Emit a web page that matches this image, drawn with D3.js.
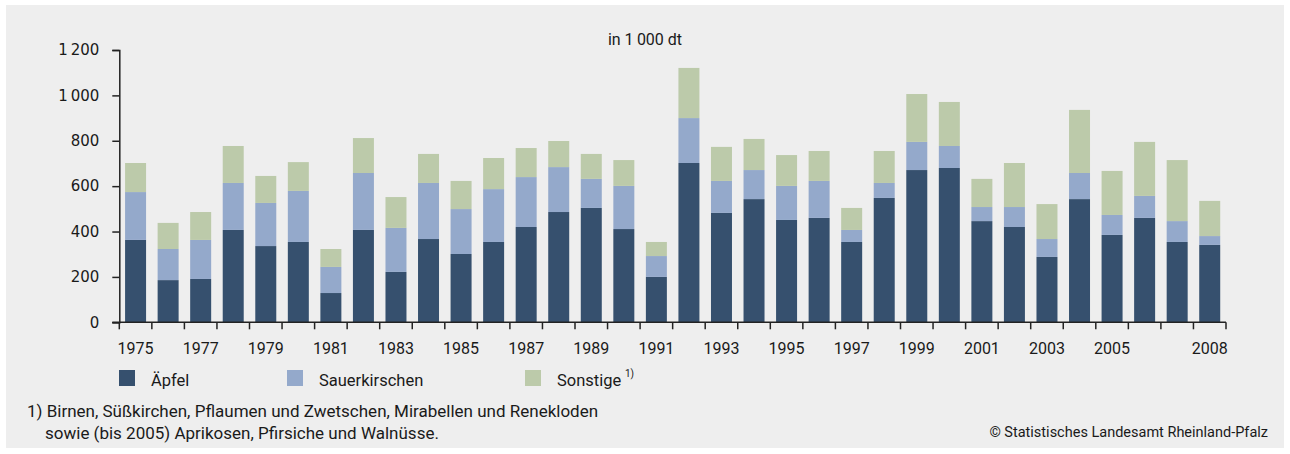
<!DOCTYPE html>
<html>
<head>
<meta charset="utf-8">
<script src="https://cdn.jsdelivr.net/npm/d3@7"></script>
<style>
  html, body { margin: 0; padding: 0; background: #ffffff; }
  svg { display: block; }
  text { font-family: Roboto, "Noto Sans", sans-serif; fill: #1a1a1a; }
</style>
</head>
<body>
<svg id="chart" width="1290" height="454"></svg>
<script>
// Erntemengen Baumobst Rheinland-Pfalz, in 1 000 dt
const years = d3.range(1975, 2009);
const aepfel = [363, 186, 191, 407, 336, 354, 129, 407, 222, 367, 301, 354, 420, 486, 504, 411, 200,
                702, 482, 543, 451, 460, 354, 548, 671, 680, 446, 420, 288, 543, 385, 460, 354, 341];
const sauerkirschen = [211, 137, 172, 207, 190, 225, 115, 251, 194, 247, 198, 233, 220, 198, 128, 190, 92,
                198, 141, 128, 150, 163, 53, 66, 124, 97, 62, 88, 79, 115, 88, 97, 92, 39];
const sonstige = [128, 115, 123, 163, 119, 127, 79, 154, 136, 128, 124, 137, 128, 115, 110, 114, 62,
                221, 150, 137, 136, 132, 97, 141, 211, 194, 124, 194, 154, 278, 194, 238, 269, 155];
const yTicks = [0, 200, 400, 600, 800, 1000, 1200];
const xTickLabels = [1975, 1977, 1979, 1981, 1983, 1985, 1987, 1989, 1991, 1993, 1995, 1997, 1999, 2001, 2003, 2005, 2008];

const seriesNames = ["Äpfel", "Sauerkirschen", "Sonstige"];
const colors = ["#36506e", "#94a9cb", "#bccaaa"];

const rows = years.map((yr, i) => ({
  year: yr,
  "Äpfel": aepfel[i],
  "Sauerkirschen": sauerkirschen[i],
  "Sonstige": sonstige[i]
}));

const svg = d3.select("#chart");

// panel background
svg.append("rect")
  .attr("x", 6).attr("y", 5)
  .attr("width", 1278).attr("height", 443)
  .attr("fill", "#eeeeee");

const plotLeft = 119.3, plotRight = 1226, plotTop = 50, plotBottom = 322.3;

const x = d3.scaleBand()
  .domain(years)
  .range([plotLeft, plotRight])
  .paddingInner(0.355)
  .paddingOuter(0.1775);

const xEdge = d3.scaleBand().domain(years).range([plotLeft, plotRight]).padding(0);

const y = d3.scaleLinear().domain([0, 1200]).range([plotBottom, plotTop]);

const layers = d3.stack().keys(seriesNames)(rows);

svg.append("g")
  .selectAll("g")
  .data(layers)
  .join("g")
  .attr("fill", (d, i) => colors[i])
  .selectAll("rect")
  .data(d => d)
  .join("rect")
  .attr("x", d => x(d.data.year))
  .attr("width", x.bandwidth())
  .attr("y", d => y(d[1]))
  .attr("height", d => y(d[0]) - y(d[1]));

// y axis
const yAxis = svg.append("g")
  .attr("transform", `translate(${plotLeft},0)`)
  .call(d3.axisLeft(y)
    .tickValues(yTicks)
    .tickSize(7)
    .tickPadding(13)
    .tickFormat(d => d3.format(",")(d).replace(",", "\u2009")));
yAxis.select(".domain").attr("stroke", "#222").attr("stroke-width", 1.5);
yAxis.selectAll(".tick line").attr("stroke", "#222").attr("stroke-width", 1.5);
yAxis.selectAll(".tick text")
  .style("font-family", "'DejaVu Sans', sans-serif")
  .style("font-size", "15px")
  .attr("fill", "#1a1a1a");

// x axis: tick marks on band boundaries
const edges = years.map(yr => xEdge(yr)).concat([plotRight]);
svg.append("line")
  .attr("x1", plotLeft - 7).attr("x2", plotRight)
  .attr("y1", plotBottom).attr("y2", plotBottom)
  .attr("stroke", "#222").attr("stroke-width", 1.5);
svg.append("g")
  .selectAll("line")
  .data(edges)
  .join("line")
  .attr("x1", d => d).attr("x2", d => d)
  .attr("y1", plotBottom).attr("y2", plotBottom + 7)
  .attr("stroke", "#222").attr("stroke-width", 1.5);

svg.append("g")
  .selectAll("text")
  .data(xTickLabels)
  .join("text")
  .attr("x", d => x(d) + x.bandwidth() / 2)
  .attr("y", 354)
  .attr("text-anchor", "middle")
  .style("font-size", "16px")
  .text(d => d);

// unit
svg.append("text")
  .attr("x", 645).attr("y", 45)
  .attr("text-anchor", "middle")
  .style("font-size", "16px")
  .text("in 1\u2009000 dt");

// legend
const legendX = [119, 287, 525];
const lg = svg.append("g")
  .selectAll("g")
  .data(seriesNames)
  .join("g")
  .attr("transform", (d, i) => `translate(${legendX[i]},370)`);
lg.append("rect")
  .attr("width", 16).attr("height", 16)
  .attr("fill", (d, i) => colors[i]);
lg.append("text")
  .attr("x", 32).attr("y", 16)
  .style("font-size", "16.5px")
  .text(d => d);
lg.filter(d => d === "Sonstige")
  .append("text")
  .attr("x", 100).attr("y", 7)
  .style("font-size", "10px")
  .text("1)");

// footnote and source
svg.append("text")
  .attr("x", 27).attr("y", 417)
  .style("font-size", "17px")
  .text("1) Birnen, Süßkirchen, Pflaumen und Zwetschen, Mirabellen und Renekloden");
svg.append("text")
  .attr("x", 45).attr("y", 439)
  .style("font-size", "17px")
  .text("sowie (bis 2005) Aprikosen, Pfirsiche und Walnüsse.");
svg.append("text")
  .attr("x", 1268).attr("y", 437)
  .attr("text-anchor", "end")
  .style("font-size", "14.5px")
  .text("© Statistisches Landesamt Rheinland-Pfalz");
</script>
</body>
</html>
